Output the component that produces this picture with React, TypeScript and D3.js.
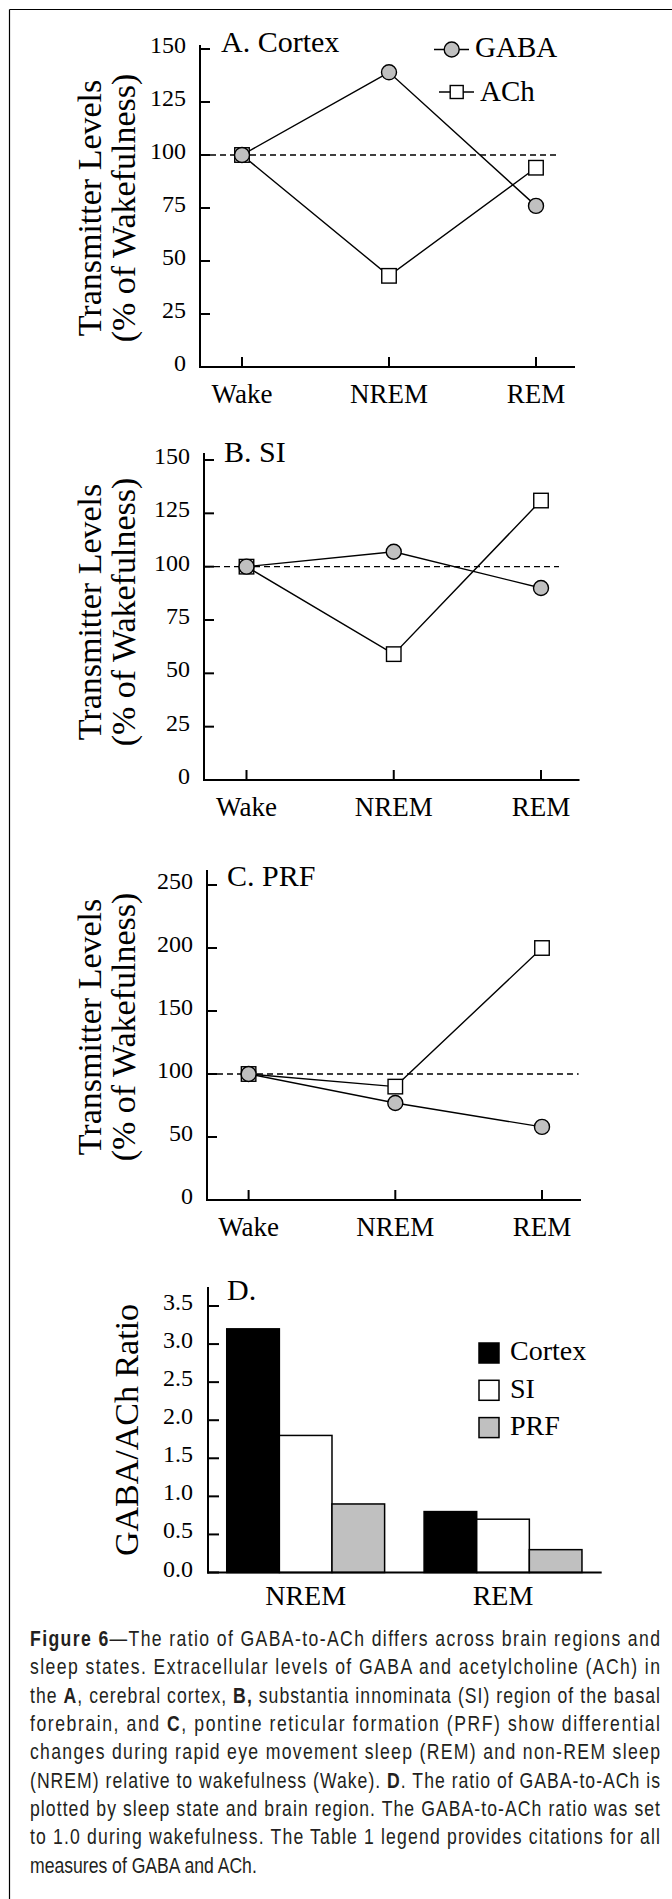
import React from 'react';
import * as d3 from 'd3';

// sleep states for panels A-C
const states = ['Wake', 'NREM', 'REM'];

// transmitter levels, % of wakefulness
const cortexGABA = [100, 139, 76];
const cortexACh = [100, 43, 94];
const siGABA = [100, 107, 90];
const siACh = [100, 59, 131];
const prfGABA = [100, 77, 58];
const prfACh = [100, 90, 200];

const levelTicks = [0, 25, 50, 75, 100, 125, 150];
const prfTicks = [0, 50, 100, 150, 200, 250];

// panel D
const ratioStates = ['NREM', 'REM'];
const regions = ['Cortex', 'SI', 'PRF'];
const ratioCortex = [3.2, 0.8];
const ratioSI = [1.8, 0.7];
const ratioPRF = [0.9, 0.3];
const ratioTicks = [0, 0.5, 1, 1.5, 2, 2.5, 3, 3.5];

const captionLines: [string, boolean][][] = [
  [['Figure 6', true], ['\u2014The ratio of GABA-to-ACh differs across brain regions and', false]],
  [['sleep states. Extracellular levels of GABA and acetylcholine (ACh) in', false]],
  [['the ', false], ['A', true], [', cerebral cortex, ', false], ['B,', true], [' substantia innominata (SI) region of the basal', false]],
  [['forebrain, and ', false], ['C', true], [', pontine reticular formation (PRF) show differential', false]],
  [['changes during rapid eye movement sleep (REM) and non-REM sleep', false]],
  [['(NREM) relative to wakefulness (Wake). ', false], ['D', true], ['. The ratio of GABA-to-ACh is', false]],
  [['plotted by sleep state and brain region. The GABA-to-ACh ratio was set', false]],
  [['to 1.0 during wakefulness. The Table 1 legend provides citations for all', false]],
  [['measures of GABA and ACh.', false]],
];

const SERIF = "'Liberation Serif', 'Times New Roman', serif";
const SANS = "'Liberation Sans', Arial, sans-serif";
const GRAY = '#c0c0c0';

const panelA = { ax: 200, axTop: 45, yTop: 49, y0: 367, wakeX: 242, remX: 536, axEnd: 575, dashEnd: 557, titleX: 221, titleY: 52, ytY: 208 };
const panelB = { ax: 204, axTop: 453, yTop: 460, y0: 780, wakeX: 246.5, remX: 541, axEnd: 579.5, dashEnd: 559, titleX: 224, titleY: 462, ytY: 612 };
const panelC = { ax: 207, axTop: 870, yTop: 885, y0: 1200, wakeX: 248.6, remX: 542, axEnd: 581, dashEnd: 578.6, titleX: 227, titleY: 886, ytY: 1027 };

const YTitle = ({ lines, xs, cy }) => (
  <g fontFamily={SERIF} fontSize={34}>
    {lines.map((t, i) => (
      <text key={t} x={xs[i]} y={cy} textAnchor="middle" transform={`rotate(-90, ${xs[i]}, ${cy})`}>
        {t}
      </text>
    ))}
  </g>
);

const LinePanel = ({ p, gaba, ach, ticks, title, legend = false }) => {
  const y = d3.scaleLinear().domain([0, ticks[ticks.length - 1]]).range([p.y0, p.yTop]);
  const x = d3.scalePoint().domain(states).range([p.wakeX, p.remX]);
  const line = d3
    .line<number>()
    .x((d, i) => x(states[i]) as number)
    .y((d) => y(d));
  const sq = 14.5;

  return (
    <g fontFamily={SERIF}>
      <line x1={p.ax} x2={p.ax} y1={p.axTop} y2={p.y0 + 1} stroke="#000" strokeWidth={2} />
      <line x1={p.ax} x2={p.axEnd} y1={p.y0} y2={p.y0} stroke="#000" strokeWidth={2} />
      {ticks.map((t) => (
        <g key={t}>
          <line x1={p.ax} x2={p.ax + 10} y1={y(t)} y2={y(t)} stroke="#000" strokeWidth={2} />
          <text x={p.ax - 14} y={y(t) + 4} textAnchor="end" fontSize={24}>
            {t}
          </text>
        </g>
      ))}
      {states.map((s) => (
        <g key={s}>
          <line x1={x(s)} x2={x(s)} y1={p.y0} y2={p.y0 - 10} stroke="#000" strokeWidth={2} />
          <text x={x(s)} y={p.y0 + 36} textAnchor="middle" fontSize={27}>
            {s}
          </text>
        </g>
      ))}
      <line x1={p.ax} x2={p.dashEnd} y1={y(100)} y2={y(100)} stroke="#000" strokeWidth={1.4} strokeDasharray="6,4" />
      <path d={line(ach) || ''} fill="none" stroke="#000" strokeWidth={1.4} />
      <path d={line(gaba) || ''} fill="none" stroke="#000" strokeWidth={1.4} />
      {ach.map((v, i) => (
        <rect key={i} x={(x(states[i]) as number) - sq / 2} y={y(v) - sq / 2} width={sq} height={sq} fill="#fff" stroke="#000" strokeWidth={1.4} />
      ))}
      {gaba.map((v, i) => (
        <circle key={i} cx={x(states[i])} cy={y(v)} r={7.5} fill={GRAY} stroke="#000" strokeWidth={1.4} />
      ))}
      <text x={p.titleX} y={p.titleY} fontSize={30}>
        {title}
      </text>
      <YTitle lines={['Transmitter Levels', '(% of Wakefulness)']} xs={[101, 135]} cy={p.ytY} />
      {legend && (
        <g fontSize={29}>
          <line x1={434} x2={469} y1={49.5} y2={49.5} stroke="#000" strokeWidth={1.4} />
          <circle cx={451.7} cy={49.5} r={7.5} fill={GRAY} stroke="#000" strokeWidth={1.4} />
          <text x={475} y={57}>GABA</text>
          <line x1={439} x2={474} y1={92} y2={92} stroke="#000" strokeWidth={1.4} />
          <rect x={456.7 - 6.5} y={92 - 6.5} width={13} height={13} fill="#fff" stroke="#000" strokeWidth={1.4} />
          <text x={480} y={101}>ACh</text>
        </g>
      )}
    </g>
  );
};

const RatioPanel = () => {
  const ax = 208;
  const y0 = 1572.5;
  const y = d3.scaleLinear().domain([0, 3.5]).range([y0, 1306]);
  const x = d3.scaleBand().domain(ratioStates).range([207, 601.7]).paddingInner(0.2).paddingOuter(0.1);
  const xr = d3.scaleBand().domain(regions).range([0, x.bandwidth()]);
  const fills = d3.scaleOrdinal<string>().domain(regions).range(['#000', '#fff', GRAY]);
  const series = [ratioCortex, ratioSI, ratioPRF];
  const fmt = d3.format('.1f');

  return (
    <g fontFamily={SERIF}>
      {regions.map((r, ri) =>
        ratioStates.map((s, si) => (
          <rect
            key={r + s}
            x={(x(s) as number) + (xr(r) as number)}
            y={y(series[ri][si])}
            width={xr.bandwidth()}
            height={y0 - y(series[ri][si])}
            fill={fills(r)}
            stroke="#000"
            strokeWidth={1.5}
          />
        ))
      )}
      <line x1={ax} x2={ax} y1={1287} y2={y0 + 1} stroke="#000" strokeWidth={2} />
      <line x1={207} x2={601.7} y1={y0} y2={y0} stroke="#000" strokeWidth={2} />
      {ratioTicks.map((t) => (
        <g key={t}>
          <line x1={ax} x2={ax + 11} y1={y(t)} y2={y(t)} stroke="#000" strokeWidth={2} />
          <text x={ax - 15} y={y(t) + 4} textAnchor="end" fontSize={24}>
            {fmt(t)}
          </text>
        </g>
      ))}
      {ratioStates.map((s) => (
        <text key={s} x={(x(s) as number) + x.bandwidth() / 2} y={1605} textAnchor="middle" fontSize={28}>
          {s}
        </text>
      ))}
      <text x={227} y={1300} fontSize={30}>
        D.
      </text>
      <YTitle lines={['GABA/ACh Ratio']} xs={[138]} cy={1430} />
      <g fontSize={28}>
        {regions.map((r, i) => (
          <g key={r}>
            <rect x={479} y={1343 + i * 37.3} width={20} height={20} fill={fills(r)} stroke="#000" strokeWidth={1.5} />
            <text x={510} y={1360 + i * 37.5}>
              {r}
            </text>
          </g>
        ))}
      </g>
    </g>
  );
};

const Caption = () => {
  const sx = 0.8;
  const left = 30;
  const width = 630;
  return (
    <g transform={`scale(${sx},1)`} fontFamily={SANS} fontSize={22} fill="#231f20">
      {captionLines.map((segs, i) => {
        const last = i === captionLines.length - 1;
        return (
          <text
            key={i}
            x={left / sx}
            y={1646 + i * 28.33}
            xmlSpace="preserve"
            {...(last ? {} : { textLength: width / sx, lengthAdjust: 'spacing' })}
          >
            {segs.map(([t, b], j) => (
              <tspan key={j} fontWeight={b ? 'bold' : 'normal'}>
                {t}
              </tspan>
            ))}
          </text>
        );
      })}
    </g>
  );
};

export default function App() {
  return (
    <>
      <style>{'html,body{margin:0;padding:0;overflow:hidden;background:#fff}'}</style>
      <svg width={672} height={1899} style={{ display: 'block' }}>
        <rect width={672} height={1899} fill="#fff" />
        <line x1={9.5} x2={672} y1={9.5} y2={9.5} stroke="#000" strokeWidth={1.2} />
        <line x1={9.5} x2={9.5} y1={9.5} y2={1899} stroke="#000" strokeWidth={1.2} />
        <LinePanel p={panelA} gaba={cortexGABA} ach={cortexACh} ticks={levelTicks} title="A. Cortex" legend />
        <LinePanel p={panelB} gaba={siGABA} ach={siACh} ticks={levelTicks} title="B. SI" />
        <LinePanel p={panelC} gaba={prfGABA} ach={prfACh} ticks={prfTicks} title="C. PRF" />
        <RatioPanel />
        <Caption />
      </svg>
    </>
  );
}
